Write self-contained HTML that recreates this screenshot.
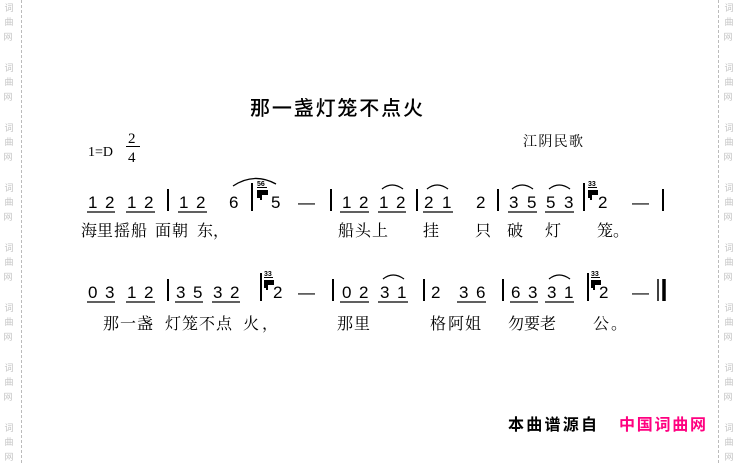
<!DOCTYPE html>
<html><head><meta charset="utf-8"><style>
html,body{margin:0;padding:0;background:#fff;}
svg{display:block;}
.n{font-family:"Liberation Sans",sans-serif;font-size:17px;fill:#000;}
.l{font-family:"Liberation Serif","Noto Serif CJK SC",serif;font-size:16px;fill:#000;}
.w{font-family:"Noto Sans CJK SC",sans-serif;font-size:9px;fill:#c4c4c4;}
.s{font-family:"Liberation Sans",sans-serif;font-size:7px;font-weight:bold;fill:#000;}
</style></head><body>
<svg width="740" height="463" viewBox="0 0 740 463" xmlns="http://www.w3.org/2000/svg">
<rect width="740" height="463" fill="#fff"/>
<line x1="21.5" y1="0" x2="21.5" y2="463" stroke="#bbb" stroke-dasharray="3,2"/>
<line x1="718.5" y1="0" x2="718.5" y2="463" stroke="#bbb" stroke-dasharray="3,2"/>
<text class="w" text-anchor="middle">
<tspan x="9" y="11">词</tspan><tspan x="9" y="25">曲</tspan><tspan x="9" y="40">网</tspan>
<tspan x="9" y="71">词</tspan><tspan x="9" y="85">曲</tspan><tspan x="9" y="100">网</tspan>
<tspan x="9" y="131">词</tspan><tspan x="9" y="145">曲</tspan><tspan x="9" y="160">网</tspan>
<tspan x="9" y="191">词</tspan><tspan x="9" y="205">曲</tspan><tspan x="9" y="220">网</tspan>
<tspan x="9" y="251">词</tspan><tspan x="9" y="265">曲</tspan><tspan x="9" y="280">网</tspan>
<tspan x="9" y="311">词</tspan><tspan x="9" y="325">曲</tspan><tspan x="9" y="340">网</tspan>
<tspan x="9" y="371">词</tspan><tspan x="9" y="385">曲</tspan><tspan x="9" y="400">网</tspan>
<tspan x="9" y="431">词</tspan><tspan x="9" y="445">曲</tspan><tspan x="9" y="460">网</tspan>
</text>
<text class="w" text-anchor="middle">
<tspan x="729" y="11">词</tspan><tspan x="729" y="25">曲</tspan><tspan x="729" y="40">网</tspan>
<tspan x="729" y="71">词</tspan><tspan x="729" y="85">曲</tspan><tspan x="729" y="100">网</tspan>
<tspan x="729" y="131">词</tspan><tspan x="729" y="145">曲</tspan><tspan x="729" y="160">网</tspan>
<tspan x="729" y="191">词</tspan><tspan x="729" y="205">曲</tspan><tspan x="729" y="220">网</tspan>
<tspan x="729" y="251">词</tspan><tspan x="729" y="265">曲</tspan><tspan x="729" y="280">网</tspan>
<tspan x="729" y="311">词</tspan><tspan x="729" y="325">曲</tspan><tspan x="729" y="340">网</tspan>
<tspan x="729" y="371">词</tspan><tspan x="729" y="385">曲</tspan><tspan x="729" y="400">网</tspan>
<tspan x="729" y="431">词</tspan><tspan x="729" y="445">曲</tspan><tspan x="729" y="460">网</tspan>
</text>

<text x="250" y="115" font-family="'Noto Sans CJK SC',sans-serif" font-size="20" font-weight="500" textLength="173">那一盏灯笼不点火</text>
<text x="88" y="156" font-family="'Liberation Serif',serif" font-size="14">1=D</text>
<text x="128" y="143" font-family="'Liberation Serif',serif" font-size="15">2</text>
<line x1="126" y1="146.5" x2="140" y2="146.5" stroke="#000"/>
<text x="128" y="162" font-family="'Liberation Serif',serif" font-size="15">4</text>
<text x="523" y="146" font-family="'Noto Serif CJK SC',serif" font-size="14" textLength="60">江阴民歌</text>

<!-- Row 1 notes -->
<g class="n">
<text x="88" y="208">1</text><text x="105" y="208">2</text><text x="127" y="208">1</text><text x="144" y="208">2</text>
<text x="179" y="208">1</text><text x="196" y="208">2</text><text x="229" y="208">6</text>
<text x="271" y="208">5</text><text x="298" y="208">—</text>
<text x="342" y="208">1</text><text x="359" y="208">2</text><text x="379" y="208">1</text><text x="396" y="208">2</text>
<text x="424" y="208">2</text><text x="442" y="208">1</text><text x="476" y="208">2</text>
<text x="509" y="208">3</text><text x="527" y="208">5</text><text x="546" y="208">5</text><text x="564" y="208">3</text>
<text x="598" y="208">2</text><text x="632" y="208">—</text>
</g>
<g stroke="#000" stroke-width="1.3" fill="none">
<line x1="87" y1="212" x2="115" y2="212"/><line x1="126" y1="212" x2="155" y2="212"/>
<line x1="178" y1="212" x2="207" y2="212"/>
<line x1="340" y1="212" x2="369" y2="212"/><line x1="378" y1="212" x2="406" y2="212"/>
<line x1="423" y1="212" x2="453" y2="212"/>
<line x1="508" y1="212" x2="537" y2="212"/><line x1="545" y1="212" x2="574" y2="212"/>
<path d="M382 189 Q392 181 403 189"/><path d="M427 189 Q437 181 448 189"/>
<path d="M512 189 Q522 181 533 189"/><path d="M549 189 Q559 181 570 189"/>
<path d="M233 186 Q254 172 276 184"/>
</g>
<g stroke="#000" stroke-width="2">
<line x1="168" y1="189" x2="168" y2="211"/><line x1="252" y1="183" x2="252" y2="211"/>
<line x1="331" y1="189" x2="331" y2="211"/><line x1="417" y1="189" x2="417" y2="211"/>
<line x1="498" y1="189" x2="498" y2="211"/><line x1="584" y1="183" x2="584" y2="211"/>
<line x1="663" y1="189" x2="663" y2="211"/>
</g>
<text class="s" x="257" y="186">56</text><line x1="257" y1="187.5" x2="267" y2="187.5" stroke="#000"/>
<path d="M257 190h11v5h-6v5h-2v-2h-3z" fill="#000"/>
<text class="s" x="588" y="186">33</text><line x1="588" y1="187.5" x2="597" y2="187.5" stroke="#000"/>
<path d="M588 190h10v5h-6v5h-2v-2h-2z" fill="#000"/>

<g class="l">
<text x="81" y="236">海</text><text x="97" y="236">里</text><text x="114" y="236">摇</text><text x="131" y="236">船</text>
<text x="155" y="236">面</text><text x="172" y="236">朝</text><text x="197" y="236">东</text><text x="213" y="236">，</text>
<text x="338" y="236">船</text><text x="355" y="236">头</text><text x="372" y="236">上</text>
<text x="423" y="236">挂</text><text x="475" y="236">只</text><text x="507" y="236">破</text><text x="545" y="236">灯</text>
<text x="597" y="236">笼</text><text x="613" y="236">。</text>
</g>

<!-- Row 2 notes -->
<g class="n">
<text x="88" y="298">0</text><text x="105" y="298">3</text><text x="127" y="298">1</text><text x="144" y="298">2</text>
<text x="176" y="298">3</text><text x="193" y="298">5</text><text x="213" y="298">3</text><text x="230" y="298">2</text>
<text x="273" y="298">2</text><text x="298" y="298">—</text>
<text x="342" y="298">0</text><text x="359" y="298">2</text><text x="380" y="298">3</text><text x="397" y="298">1</text>
<text x="431" y="298">2</text><text x="459" y="298">3</text><text x="476" y="298">6</text>
<text x="511" y="298">6</text><text x="528" y="298">3</text><text x="547" y="298">3</text><text x="564" y="298">1</text>
<text x="599" y="298">2</text><text x="632" y="298">—</text>
</g>
<g stroke="#000" stroke-width="1.3" fill="none">
<line x1="87" y1="302" x2="115" y2="302"/><line x1="126" y1="302" x2="155" y2="302"/>
<line x1="175" y1="302" x2="203" y2="302"/><line x1="212" y1="302" x2="240" y2="302"/>
<line x1="340" y1="302" x2="369" y2="302"/><line x1="378" y1="302" x2="408" y2="302"/>
<line x1="457" y1="302" x2="486" y2="302"/>
<line x1="510" y1="302" x2="538" y2="302"/><line x1="545" y1="302" x2="574" y2="302"/>
<path d="M383 279 Q393 271 404 279"/><path d="M549 279 Q559 271 570 279"/>
</g>
<g stroke="#000" stroke-width="2">
<line x1="168" y1="279" x2="168" y2="301"/><line x1="261" y1="273" x2="261" y2="301"/>
<line x1="333" y1="279" x2="333" y2="301"/><line x1="424" y1="279" x2="424" y2="301"/>
<line x1="503" y1="279" x2="503" y2="301"/><line x1="588" y1="273" x2="588" y2="301"/>
<line x1="658" y1="279" x2="658" y2="301" stroke-width="1.5"/>
<line x1="664" y1="279" x2="664" y2="301" stroke-width="3.5"/>
</g>
<text class="s" x="264" y="276">33</text><line x1="264" y1="277.5" x2="273" y2="277.5" stroke="#000"/>
<path d="M264 280h10v5h-6v5h-2v-2h-2z" fill="#000"/>
<text class="s" x="591" y="276">33</text><line x1="591" y1="277.5" x2="600" y2="277.5" stroke="#000"/>
<path d="M591 280h10v5h-6v5h-2v-2h-2z" fill="#000"/>

<g class="l">
<text x="103" y="329">那</text><text x="120" y="329">一</text><text x="137" y="329">盏</text>
<text x="165" y="329">灯</text><text x="182" y="329">笼</text><text x="199" y="329">不</text><text x="216" y="329">点</text>
<text x="243" y="329">火</text><text x="262" y="329">，</text>
<text x="337" y="329">那</text><text x="354" y="329">里</text>
<text x="430" y="329">格</text><text x="448" y="329">阿</text><text x="465" y="329">姐</text>
<text x="508" y="329">勿</text><text x="524" y="329">要</text><text x="540" y="329">老</text>
<text x="593" y="329">公</text><text x="611" y="329">。</text>
</g>

<text x="508" y="430" font-family="'Noto Sans CJK SC',sans-serif" font-size="16" font-weight="bold" fill="#000" textLength="89">本曲谱源自</text>
<text x="619" y="430" font-family="'Noto Sans CJK SC',sans-serif" font-size="16" font-weight="bold" fill="#ff0080" textLength="87">中国词曲网</text>
</svg>
</body></html>
